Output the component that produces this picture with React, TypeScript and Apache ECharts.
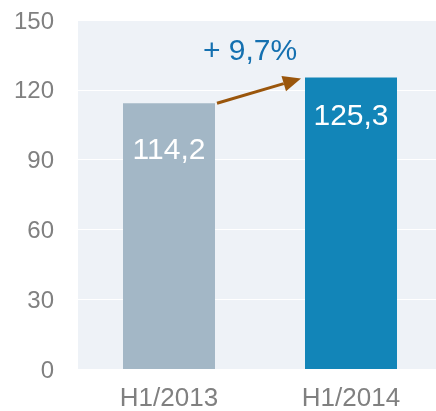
import React, { useEffect, useRef } from "react";
import * as echarts from "echarts";

const categories = ["H1/2013", "H1/2014"];
const values = [114.2, 125.3];
const valueLabels = ["114,2", "125,3"];
const barColors = ["#a3b7c6", "#1285b8"];
const labelDistances = [30, 22];
const changeLabel = "+ 9,7%";
const yTicks = { min: 0, max: 150, interval: 30 };

export default function App() {
  const ref = useRef<HTMLDivElement>(null);
  useEffect(() => {
    if (!ref.current) return;
    const chart = echarts.init(ref.current, null, { renderer: "svg" });
    const font = "'Liberation Sans', Arial, sans-serif";
    chart.setOption({
      animation: false,
      grid: {
        left: 78,
        right: 4,
        top: 20,
        bottom: 42,
        show: true,
        backgroundColor: "#eef2f7",
        borderWidth: 0,
      },
      xAxis: {
        type: "category",
        data: categories,
        axisLine: { show: false },
        axisTick: { show: false },
        axisLabel: { color: "#808080", fontSize: 26, lineHeight: 22, fontFamily: font, margin: 17 },
      },
      yAxis: {
        type: "value",
        min: yTicks.min,
        max: yTicks.max,
        interval: yTicks.interval,
        axisLine: { show: false },
        axisTick: { show: false },
        splitLine: { lineStyle: { color: "#ffffff", width: 1 } },
        axisLabel: { color: "#808080", fontSize: 24, fontFamily: font, margin: 24 },
      },
      series: [
        {
          type: "bar",
          barWidth: 92,
          data: values.map((v, i) => ({
            value: v,
            itemStyle: { color: barColors[i] },
            label: {
              show: true,
              position: "insideTop",
              distance: labelDistances[i],
              formatter: valueLabels[i],
              color: "#ffffff",
              fontSize: 30,
              fontFamily: font,
            },
          })),
        },
      ],
    });

    const p1 = chart.convertToPixel({ gridIndex: 0 }, [0, values[0]]) as number[];
    const p2 = chart.convertToPixel({ gridIndex: 0 }, [1, values[1]]) as number[];
    const half = 46;
    const x1 = p1[0] + half + 2;
    const y1 = p1[1];
    const x2 = p2[0] - half - 4;
    const y2 = p2[1] + 1;
    const ang = Math.atan2(y2 - y1, x2 - x1);
    const headLen = 18;
    const headW = 8;
    const bx = x2 - headLen * Math.cos(ang);
    const by = y2 - headLen * Math.sin(ang);
    const nx = -Math.sin(ang);
    const ny = Math.cos(ang);
    const arrowColor = "#9a560c";
    chart.setOption({
      graphic: [
        {
          type: "line",
          shape: { x1, y1, x2: bx, y2: by },
          style: { stroke: arrowColor, lineWidth: 3 },
        },
        {
          type: "polygon",
          shape: {
            points: [
              [x2, y2],
              [bx + nx * headW, by + ny * headW],
              [bx - nx * headW, by - ny * headW],
            ],
          },
          style: { fill: arrowColor },
        },
        {
          type: "text",
          x: (p1[0] + p2[0]) / 2 - 10,
          y: 49,
          style: {
            text: changeLabel,
            fill: "#1470b0",
            fontSize: 30,
            fontFamily: font,
            align: "center",
            verticalAlign: "middle",
          },
        },
      ],
    });
    return () => chart.dispose();
  }, []);
  return (
    <div style={{ position: "fixed", left: 0, top: 0, width: 436, height: 411, overflow: "hidden" }}>
      <div ref={ref} style={{ width: 446, height: 411 }} />
    </div>
  );
}
